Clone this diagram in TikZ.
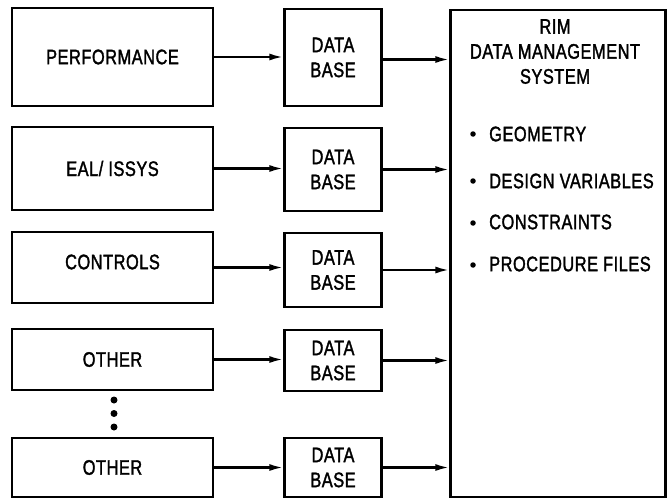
\documentclass[tikz,border=0pt]{standalone}
\usepackage{fontspec}
\setmainfont{Liberation Sans}[FakeStretch=0.78,FakeBold=1.6,LetterSpace=2.5]
\usetikzlibrary{arrows.meta}
\begin{document}
\begin{tikzpicture}[x=1pt,y=-1pt,
  box/.style={draw,line width=2.4pt,inner sep=0pt,font=\fontsize{21}{25}\selectfont,align=center},
  lbl/.style={inner sep=0pt,font=\fontsize{21}{25}\selectfont,align=center},
  arr/.style={line width=2.2pt,-{Latex[length=14pt,width=7pt]}},
  dot/.style={circle,fill,inner sep=0pt,minimum size=7pt},
  bul/.style={circle,fill,inner sep=0pt,minimum size=5.5pt}]
\useasboundingbox (0,0) rectangle (668,500);
% left boxes
\node[box,minimum width=201pt,minimum height=98pt] (b1) at (112.5,57) {PERFORMANCE};
\node[box,minimum width=201pt,minimum height=83pt] (b2) at (112.5,168.5) {EAL/ ISSYS};
\node[box,minimum width=201pt,minimum height=71pt] (b3) at (112.5,267.5) {};
\node[lbl] (t3) at (112.5,262) {CONTROLS};
\node[box,minimum width=201pt,minimum height=61pt] (b4) at (112.5,359.5) {OTHER};
\node[box,minimum width=201pt,minimum height=59pt] (b5) at (112.5,467.5) {OTHER};
% dots
\node[dot] (o1) at (114,400) {};
\node[dot] (o2) at (114,413.5) {};
\node[dot] (o3) at (114,427) {};
% data bases
\node[box,minimum width=97pt,minimum height=97pt] (d1) at (333,57.5) {DATA\\BASE};
\node[box,minimum width=97pt,minimum height=83pt] (d2) at (333,169.5) {DATA\\BASE};
\node[box,minimum width=97pt,minimum height=74pt] (d3) at (333,270) {DATA\\BASE};
\node[box,minimum width=97pt,minimum height=61pt] (d4) at (333,360.5) {DATA\\BASE};
\node[box,minimum width=97pt,minimum height=59pt] (d5) at (333,467.5) {DATA\\BASE};
% RIM box
\node[box,minimum width=215pt,minimum height=487pt] (rim) at (558,253.5) {};
\node[lbl,anchor=north] (title) at (555,19) {RIM\\DATA MANAGEMENT\\SYSTEM};
\node[bul] (u1) at (473,134) {};
\node[bul] (u2) at (473,181) {};
\node[bul] (u3) at (473,223) {};
\node[bul] (u4) at (473,265) {};
\node[lbl,anchor=west] (g1) at (489,134) {GEOMETRY};
\node[lbl,anchor=west] (g2) at (489,181) {DESIGN VARIABLES};
\node[lbl,anchor=west] (g3) at (489,222) {CONSTRAINTS};
\node[lbl,anchor=west] (g4) at (489,264) {PROCEDURE FILES};
% arrows
\draw[arr] (b1.east) -- (b1.east -| d1.west);
\draw[arr] (b2.east) -- (b2.east -| d2.west);
\draw[arr] (b3.east) -- (b3.east -| d3.west);
\draw[arr] (b4.east) -- (b4.east -| d4.west);
\draw[arr] (b5.east) -- (b5.east -| d5.west);
\draw[arr] (d1.east) ++(0,2) coordinate (e1) -- (e1 -| rim.west);
\draw[arr] (d2.east) -- (d2.east -| rim.west);
\draw[arr] (d3.east) -- (d3.east -| rim.west);
\draw[arr] (d4.east) -- (d4.east -| rim.west);
\draw[arr] (d5.east) -- (d5.east -| rim.west);
\end{tikzpicture}
\end{document}
